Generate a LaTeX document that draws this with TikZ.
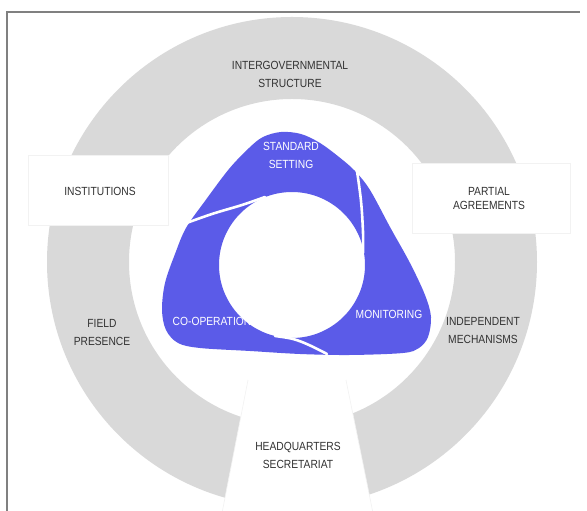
\documentclass[tikz,border=0pt]{standalone}
\usepackage{fontspec}
\setmainfont{Liberation Sans}[FakeStretch=0.87]
\definecolor{ringgray}{RGB}{217,217,217}
\definecolor{blueseg}{RGB}{91,91,232}
\definecolor{labelgray}{RGB}{50,50,50}
\definecolor{framegray}{RGB}{128,128,128}
\begin{document}
\begin{tikzpicture}[x=1pt,y=1pt,
  ringlabel/.style={text=labelgray, font=\fontsize{11.8}{18}\selectfont, align=center, inner sep=0pt},
  tightlabel/.style={ringlabel, font=\fontsize{11.8}{14}\selectfont},
  bluelabel/.style={ringlabel, text=white},
  gapline/.style={white, line width=2.6pt, line cap=round},
  cutbox/.style={fill=white},
  faintedge/.style={draw=black!5, line width=0.6pt}]
\useasboundingbox (0,0) rectangle (587,511);
% ring
\coordinate (rc) at (292,249);
\fill[ringgray, even odd rule] (rc) circle[radius=245] (rc) circle[radius=163];
% white cut-outs
\path[cutbox, faintedge] (28,286) rectangle (168,356);
\path[cutbox, faintedge] (412,278) rectangle (570,348);
\path[cutbox] (248,131) -- (346,131) -- (373,-2) -- (222,-2) -- cycle;
\draw[faintedge] (248,131) -- (222,-2) (346,131) -- (373,-2);
% frame
\draw[framegray, line width=2pt] (7,0) -- (7,499) -- (580,499);
% blue rounded triangle with hole
\coordinate (hc) at (292,246);
\fill[blueseg, even odd rule] plot[smooth cycle, tension=0.55] coordinates {
  (281,379) (301,377) (320,368) (339,354) (355,340) (370,321) (390,284)
  (410,248) (425,216) (431,194) (428,174) (419,163) (403,158) (350,156)
  (300,157) (250,160) (200,163) (178,168) (166,181) (162,201) (165,228)
  (175,257) (186,283) (205,310) (229,342) (249,363) (263,374)}
  (hc) circle[radius=73];
% gaps between the three segments
\draw[gapline] plot[smooth, tension=0.6] coordinates {(265,314) (242,306) (212,297) (181,286)};
\draw[gapline] plot[smooth, tension=0.6] coordinates {(363,258) (363,279) (361,310) (357,340)};
\draw[gapline] plot[smooth, tension=0.6] coordinates {(275,175) (293,172) (309,166) (327,157)};
% labels
\node[ringlabel] (intergov) at (290,437) {INTERGOVERNMENTAL\\STRUCTURE};
\node[ringlabel] (inst) at (100,320) {INSTITUTIONS};
\node[tightlabel] (partial) at (489,312) {PARTIAL\\AGREEMENTS};
\node[ringlabel] (field) at (102,178.5) {FIELD\\PRESENCE};
\node[ringlabel] (indep) at (483,180.5) {INDEPENDENT\\MECHANISMS};
\node[ringlabel] (hq) at (298,56) {HEADQUARTERS\\SECRETARIAT};
\node[bluelabel] (std) at (291,356) {STANDARD\\SETTING};
\node[bluelabel] (coop) at (212,190) {CO-OPERATION};
\node[bluelabel] (mon) at (389,197) {MONITORING};
\end{tikzpicture}
\end{document}
